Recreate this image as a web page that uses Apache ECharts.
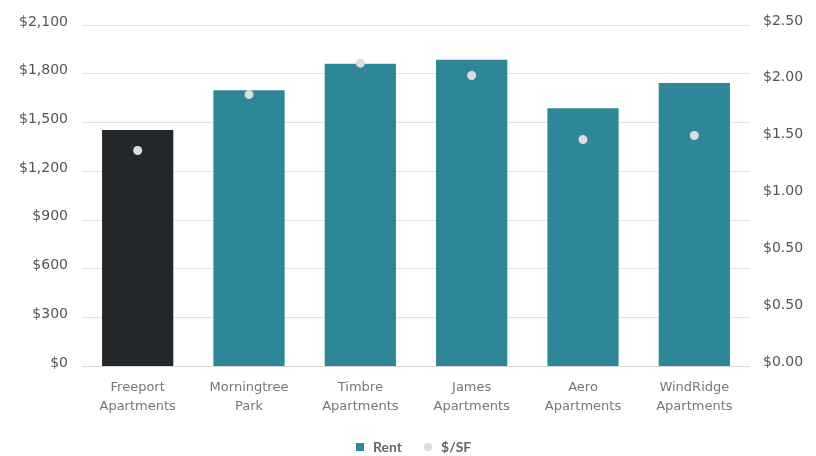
<!DOCTYPE html>
<html>
<head>
<meta charset="utf-8">
<script src="https://cdn.jsdelivr.net/npm/echarts@6/dist/echarts.min.js"></script>
<style>html,body{margin:0;padding:0;background:#fff}#c{width:816px;height:456px}</style>
</head>
<body>
<div id="c"></div>
<script>
const categories = ['Freeport\nApartments', 'Morningtree\nPark', 'Timbre\nApartments', 'James\nApartments', 'Aero\nApartments', 'WindRidge\nApartments'];
const rent = [1453, 1698, 1862, 1886, 1587, 1743];
const psf = [1.58, 1.99, 2.22, 2.13, 1.66, 1.69];
const rightTickLabels = ['$0.00', '$0.50', '$0.50', '$1.00', '$1.50', '$2.00', '$2.50'];
const highlightIndex = 0;

const chart = echarts.init(document.getElementById('c'), null, {renderer: 'canvas'});
const AXF = 'DejaVu Sans';
chart.setOption({
  animation: false,
  textStyle: {fontFamily: AXF},
  grid: {left: 82, right: 66, top: 25, bottom: 90},
  legend: {
    top: 435,
    left: 351,
    itemWidth: 8, itemHeight: 8, itemGap: 22,
    textStyle: {fontFamily: 'Lato', fontSize: 14, fontWeight: 'bold', color: '#666', padding: [0, 0, 0, 4]},
    data: [{name: 'Rent', icon: 'rect'}, {name: '$/SF', icon: 'circle'}]
  },
  xAxis: {
    type: 'category',
    data: categories,
    axisLine: {lineStyle: {color: '#d9d9d9', width: 1}},
    axisTick: {show: false},
    axisLabel: {fontFamily: AXF, fontSize: 13, color: '#777', lineHeight: 19, margin: 12, interval: 0}
  },
  yAxis: [{
    type: 'value', min: 0, max: 2100, interval: 300,
    axisLine: {show: false}, axisTick: {show: false},
    splitLine: {lineStyle: {color: '#e2e2e2', width: 1}},
    axisLabel: {fontFamily: AXF, fontSize: 14, color: '#555', margin: 14, verticalAlign: 'bottom', lineHeight: 6,
      formatter: v => '$' + v.toLocaleString('en-US')}
  }, {
    type: 'value', min: 0, max: 2.5, interval: 2.5 / 6,
    axisLine: {show: false}, axisTick: {show: false}, splitLine: {show: false},
    axisLabel: {fontFamily: AXF, fontSize: 14, color: '#555', margin: 13, verticalAlign: 'bottom', lineHeight: 8,
      formatter: (v, i) => rightTickLabels[Math.round(v / (2.5 / 6))]}
  }],
  series: [{
    name: 'Rent', type: 'bar', yAxisIndex: 0, barWidth: '64%',
    itemStyle: {color: '#2d8799'},
    data: rent.map((v, i) => i === highlightIndex ? {value: v, itemStyle: {color: '#23272a'}} : v)
  }, {
    name: '$/SF', type: 'scatter', yAxisIndex: 1, symbol: 'circle', symbolSize: 9,
    itemStyle: {color: '#dcdcdc', opacity: 1},
    data: psf, z: 5
  }]
});
</script>
</body>
</html>
